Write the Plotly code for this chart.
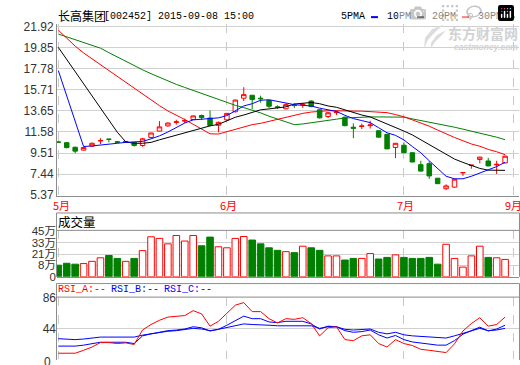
import plotly.graph_objects as go

# ---------------- data ----------------
day_index = list(range(54))
month_pos = [0, 20, 41, 54]
month_labels = ["5月", "6月", "7月", "9月"]

opens = [10.60, 10.53, 10.08, 9.80, 10.18, 10.70, 10.88, 10.62, 10.55, 10.56,
         10.25, 11.04, 11.67, 12.18, 12.52, 12.65, 12.81, 13.20, 12.95, 12.24,
         12.77, 13.57, 14.90, 15.19, 14.90, 14.68, 14.05, 13.86, 14.22, 14.25,
         14.62, 13.76, 13.10, 13.48, 13.03, 12.05, 12.12, 12.20, 11.70, 11.35,
         10.06, 10.28, 9.54, 8.37, 8.47, 7.04, 6.00, 6.16, 7.57, 8.29,
         8.88, 8.73, 8.35, 8.54]
closes = [10.58, 10.05, 9.70, 10.05, 10.47, 10.74, 10.86, 10.58, 10.65, 10.26,
          10.91, 11.48, 12.08, 12.46, 12.58, 12.70, 13.16, 13.00, 12.22, 12.53,
          13.41, 14.72, 15.25, 14.77, 14.85, 14.11, 14.00, 14.27, 14.18, 14.30,
          14.08, 12.97, 13.47, 13.53, 12.20, 11.95, 12.17, 12.27, 11.07, 9.92,
          10.47, 9.54, 8.63, 7.74, 7.26, 6.50, 6.28, 6.94, 7.59, 8.32,
          9.11, 8.25, 8.40, 9.20]
highs = [10.65, 10.55, 10.15, 10.10, 10.55, 10.97, 10.89, 10.70, 10.68, 10.58,
         11.01, 11.50, 12.65, 12.50, 12.78, 12.90, 13.20, 13.30, 13.70, 12.60,
         13.45, 14.75, 15.98, 15.22, 15.15, 14.70, 14.20, 14.40, 14.40, 14.40,
         14.70, 13.80, 13.55, 13.70, 13.10, 12.43, 12.40, 12.68, 11.75, 11.40,
         10.50, 10.56, 9.60, 8.75, 8.70, 7.05, 6.44, 7.00, 7.60, 8.33,
         9.15, 9.04, 8.75, 9.25]
lows = [10.50, 9.96, 9.49, 9.75, 10.15, 10.40, 10.56, 10.48, 10.52, 10.15,
        10.12, 11.02, 11.65, 12.10, 12.30, 12.45, 12.78, 12.75, 12.15, 11.54,
        12.70, 13.50, 14.62, 13.82, 14.46, 13.92, 13.85, 13.80, 13.95, 13.95,
        14.00, 12.90, 12.94, 13.25, 12.15, 10.97, 11.87, 11.92, 11.05, 9.90,
        9.01, 9.50, 8.60, 7.70, 6.98, 6.50, 5.87, 6.10, 7.27, 7.97,
        8.50, 8.20, 7.45, 8.50]

ma5 = [17.62, 15.06, 12.65, 10.15, 10.21, 10.28, 10.34, 10.47, 10.56, 10.59,
       10.65, 10.91, 11.20, 11.58, 12.02, 12.46, 12.77, 12.84, 12.87, 12.97,
       13.19, 13.67, 14.14, 14.36, 14.70, 14.75, 14.58, 14.38, 14.27, 14.20,
       14.14, 13.92, 13.76, 13.60, 13.22, 12.90, 12.70, 12.50, 12.00, 11.50,
       11.25, 10.80, 10.15, 9.54, 8.75, 7.97, 7.23, 6.98, 6.98, 7.23,
       7.55, 7.87, 8.18, 8.60]
ma10 = [19.90, 18.71, 17.50, 16.30, 15.12, 13.92, 12.72, 11.56, 10.61, 10.47,
        10.47, 10.56, 10.81, 11.05, 11.29, 11.51, 11.73, 11.99, 12.18, 12.33,
        12.72, 13.03, 13.25, 13.51, 13.76, 13.85, 13.92, 14.05, 14.33, 14.42,
        14.48, 14.36, 14.14, 14.01, 13.76, 13.44, 13.25, 13.06, 12.72, 12.40,
        12.02, 11.67, 11.29, 10.81, 10.34, 9.87, 9.39, 8.92, 8.59, 8.28,
        8.00, 7.83, 7.80, 7.81]
ma20 = [21.59, 20.78, 20.02, 19.35, 18.78, 18.21, 17.64, 17.02, 16.41, 15.84,
        15.27, 14.74, 14.17, 13.65, 13.25, 12.81, 12.34, 11.86, 11.40, 11.38,
        11.61, 11.83, 12.08, 12.30, 12.43, 12.62, 12.81, 13.00, 13.25, 13.41,
        13.54, 13.63, 13.67, 13.67, 13.63, 13.63, 13.63, 13.60, 13.57, 13.48,
        13.29, 13.08, 12.77, 12.49, 12.15, 11.77, 11.39, 11.04, 10.72, 10.40,
        10.18, 9.87, 9.64, 9.35]
ma30 = [21.21, 20.93, 20.66, 20.38, 20.10, 19.82, 19.38, 18.94, 18.50, 18.06,
        17.69, 17.31, 16.94, 16.57, 16.26, 15.96, 15.66, 15.35, 15.08, 14.79,
        14.51, 14.20, 13.98, 13.75, 13.46, 13.13, 12.84, 12.60, 12.30, 12.37,
        12.47, 12.59, 12.72, 12.84, 12.96, 13.01, 13.03, 13.06, 13.06, 13.06,
        13.06, 13.04, 12.87, 12.72, 12.56, 12.40, 12.24, 12.05, 11.86, 11.67,
        11.48, 11.29, 11.07, 10.82]

volume = [11.5, 13.4, 12.5, 13.1, 15.3, 18.8, 21.1, 18.2, 15.3, 18.2,
          25.9, 39.6, 38.0, 32.6, 40.9, 35.4, 40.9, 30.7, 39.3, 29.7,
          28.7, 38.0, 39.9, 36.4, 32.6, 28.7, 26.2, 24.9, 23.9, 30.3,
          28.7, 26.2, 20.7, 20.7, 16.6, 18.2, 18.2, 23.0, 17.6, 19.2,
          21.7, 19.2, 18.2, 18.2, 19.2, 12.5, 32.2, 18.2, 9.6, 20.7,
          30.3, 19.2, 18.8, 17.2]

rsi_a = [9.8, 9.8, 9.8, 13.8, 18.3, 24.4, 24.4, 23.1, 24.0, 21.8,
         41.8, 49.3, 55.1, 59.5, 60.8, 61.6, 68.3, 63.9, 47.0, 53.7,
         64.8, 75.9, 79.4, 67.0, 67.0, 57.3, 51.5, 57.3, 56.4, 58.6,
         50.6, 33.7, 44.8, 46.2, 28.5, 27.1, 33.7, 35.1, 23.1, 18.3,
         28.5, 23.1, 20.4, 15.2, 13.8, 12.0, 10.7, 22.7, 40.4, 50.6,
         58.6, 47.0, 49.3, 59.5]
rsi_b = [19.6, 19.6, 19.6, 20.9, 23.1, 24.9, 24.9, 24.9, 24.9, 23.1,
         33.7, 36.4, 38.6, 40.8, 41.7, 43.1, 46.2, 44.8, 40.4, 42.7,
         48.3, 55.0, 60.8, 57.3, 57.3, 52.8, 51.9, 53.7, 53.7, 53.7,
         50.1, 43.1, 47.0, 46.2, 40.8, 38.6, 39.5, 41.7, 35.1, 30.7,
         34.2, 28.5, 25.3, 24.0, 23.1, 20.9, 20.9, 27.1, 36.0, 40.8,
         45.7, 40.4, 43.1, 48.3]
rsi_c = [29.8, 29.3, 28.5, 29.3, 30.7, 32.0, 32.0, 32.0, 32.0, 32.0,
         34.7, 36.8, 38.6, 40.0, 40.8, 42.1, 44.0, 43.1, 40.8, 42.7,
         45.3, 48.3, 50.1, 49.3, 49.3, 48.3, 47.5, 47.5, 48.0, 48.3,
         47.5, 44.0, 46.2, 46.2, 42.7, 41.7, 42.7, 43.1, 38.6, 36.4,
         38.6, 35.1, 33.7, 32.9, 32.0, 30.7, 30.7, 33.7, 37.3, 41.4,
         44.0, 40.8, 41.7, 44.0]

price_ticks = [5.37, 7.44, 9.51, 11.58, 13.65, 15.71, 17.78, 19.85, 21.92]
vol_tick_labels = ["0", "8万", "21万", "33万", "45万"]
rsi_ticks = [44, 86]

# ---------------- styling / layout helpers ----------------
W, H = 520, 365
RED, GREEN, BLUE = "#ff0000", "#008000", "#0000ff"
GRID = "#d0d0d0"
FRAME = "#8c8c8c"
TXT = "#333333"


def px(y):
    return 1 - y / H


def pxx(x):
    return x / W


xdom = [pxx(57), pxx(519)]
xrange_ = [-0.154, 54.65]

fig = go.Figure()

fig.add_trace(go.Candlestick(
    x=day_index, open=opens, high=highs, low=lows, close=closes,
    increasing=dict(line=dict(color=RED, width=1), fillcolor="#ffffff"),
    decreasing=dict(line=dict(color=GREEN, width=1), fillcolor=GREEN),
    whiskerwidth=0, xaxis="x", yaxis="y", showlegend=False, hoverinfo="skip"))

for arr, col in [(ma30, GREEN), (ma20, RED), (ma10, "#000000"), (ma5, BLUE)]:
    fig.add_trace(go.Scatter(x=day_index, y=arr, mode="lines",
                             line=dict(color=col, width=1),
                             xaxis="x", yaxis="y", showlegend=False, hoverinfo="skip"))

up = [c >= o for o, c in zip(opens, closes)]
fig.add_trace(go.Bar(
    x=day_index, y=volume, width=0.78,
    marker=dict(color=["#ffffff" if u else GREEN for u in up],
                line=dict(color=[RED if u else GREEN for u in up], width=1)),
    xaxis="x2", yaxis="y2", showlegend=False, hoverinfo="skip"))

for arr, col in [(rsi_c, BLUE), (rsi_b, BLUE), (rsi_a, RED)]:
    fig.add_trace(go.Scatter(x=day_index, y=arr, mode="lines",
                             line=dict(color=col, width=1),
                             xaxis="x3", yaxis="y3", showlegend=False, hoverinfo="skip"))

tickfont = dict(family="Liberation Sans, Noto Sans CJK SC", size=12, color=TXT)
voltickfont = dict(family="Liberation Sans, Noto Sans CJK SC", size=11.5, color=TXT)
xcommon = dict(range=xrange_, domain=xdom, tickvals=month_pos, showticklabels=False,
               showgrid=True, gridcolor="#c8c8c8", griddash="dash", gridwidth=1,
               zeroline=False, ticks="", fixedrange=True)

fig.update_layout(
    width=W, height=H, margin=dict(l=0, r=0, t=0, b=0),
    paper_bgcolor="#ffffff", plot_bgcolor="#ffffff",
    boxgap=0.24,
    xaxis=dict(**xcommon, anchor="y", showline=True, linecolor=FRAME, linewidth=1,
               rangeslider=dict(visible=False)),
    yaxis=dict(domain=[px(196.5), px(19)], range=[5.285, 22.158], tickvals=price_ticks,
               ticktext=[f"{v:.2f}" for v in price_ticks], showgrid=True, gridcolor=GRID,
               zeroline=False, showline=True, linecolor=FRAME, ticks="", tickfont=tickfont,
               fixedrange=True),
    xaxis2=dict(**xcommon, anchor="y2", showline=True, linecolor=FRAME),
    yaxis2=dict(domain=[px(280), px(232)], range=[0, 45.96],
                tickvals=[0, 11.25, 22.5, 33.75, 45], ticktext=vol_tick_labels,
                showgrid=True, gridcolor=GRID, zeroline=False, showline=False, ticks="",
                tickfont=voltickfont, fixedrange=True),
    xaxis3=dict(**xcommon, anchor="y3", showline=False),
    yaxis3=dict(domain=[0, px(301)], range=[1.86, 86.97], tickvals=rsi_ticks,
                ticktext=[str(v) for v in rsi_ticks], showgrid=True, gridcolor=GRID,
                zeroline=False, showline=False, ticks="", tickfont=tickfont, fixedrange=True),
)

shapes = []


def hline(y, x0=56.5, x1=519.5, color=FRAME, width=1):
    shapes.append(dict(type="line", xref="paper", yref="paper", x0=pxx(x0), x1=pxx(x1),
                       y0=px(y), y1=px(y), line=dict(color=color, width=width)))


def vline(x, y0, y1, color=FRAME, width=1):
    shapes.append(dict(type="line", xref="paper", yref="paper", x0=pxx(x), x1=pxx(x),
                       y0=px(y0), y1=px(y1), line=dict(color=color, width=width)))


# volume panel frame
hline(214)
hline(232)
vline(56.5, 214, 280)
vline(519.5, 214, 280)
# RSI panel frame
hline(287)
hline(301)
vline(56.5, 287, 366)
vline(519.5, 287, 366)

# legend dashes
for x0, col in [(371, BLUE), (417, "#000000"), (462, RED), (508, GREEN)]:
    shapes.append(dict(type="line", xref="paper", yref="paper", x0=pxx(x0), x1=pxx(x0 + 7),
                       y0=px(11.5), y1=px(11.5), line=dict(color=col, width=2)))


# watermark swoosh logo (light grey strokes)
def wpath(points):
    d = "M " + " L ".join(f"{pxx(x):.5f},{px(y):.5f}" for x, y in points) + " Z"
    shapes.append(dict(type="path", xref="paper", yref="paper", path=d,
                       fillcolor="#dcdcdc", line=dict(width=0)))


wpath([(444, 19), (432, 24), (425, 33), (424, 44), (428, 35), (436, 26)])
wpath([(446, 25), (437, 30), (431, 38), (431, 44), (435, 37), (441, 31)])

fig.update_layout(shapes=shapes)

ann = []


def text(x, y, s, size=12, color="#000000", family="Noto Sans CJK SC", xanchor="left",
         yanchor="middle"):
    ann.append(dict(x=pxx(x), y=px(y), xref="paper", yref="paper", text=s, showarrow=False,
                    xanchor=xanchor, yanchor=yanchor,
                    font=dict(size=size, color=color, family=family)))


mono = "Liberation Mono, DejaVu Sans Mono"
text(56, 10, "长高集团", size=12)
text(102, 10.5, "[002452] 2015-09-08 15:00", size=10, family=mono)
for x0, lab in [(339, "5PMA"), (385, "10PM"), (430, "20PM"), (476, "30PM")]:
    text(x0, 10.5, lab, size=10, family=mono)

# watermark
text(520, 28, "<b>东方财富网</b>", size=14, color="#d2d2d2", xanchor="right")
text(520, 42, "<b><i>eastmoney.com</i></b>", size=8.5, color="#d2d2d2",
     family="Liberation Sans", xanchor="right")

# month labels
for pos, lab, dx in zip(month_pos, month_labels, [3.5, 1.5, 1.5, 0.0]):
    ann.append(dict(x=pos, y=px(206), xref="x", yref="paper", text=lab, showarrow=False,
                    xanchor="center", yanchor="middle", xshift=dx,
                    font=dict(size=11, color=RED, family="Noto Sans CJK SC")))

text(56, 223, "成交量", size=12.5)
text(56, 293.5, "RSI_A:--", size=10, color=RED, family=mono)
text(109, 293.5, "RSI_B:--", size=10, color=BLUE, family=mono)
text(162, 293.5, "RSI_C:--", size=10, color=BLUE, family=mono)
text(53, 368, "0", size=12, color=TXT, family="Liberation Sans", xanchor="right")

fig.update_layout(annotations=ann)

fig.write_html("out.html",
               post_script="document.body.style.margin='0';document.body.style.overflow='hidden';")
